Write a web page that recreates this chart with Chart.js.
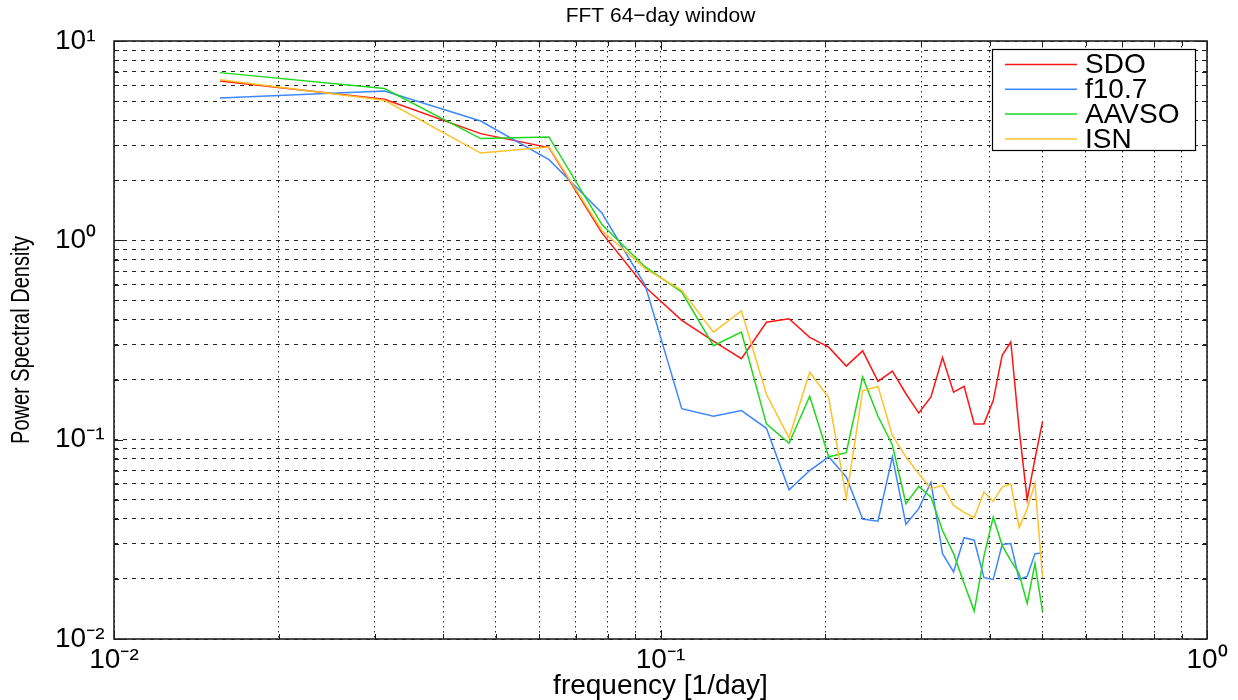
<!DOCTYPE html>
<html>
<head>
<meta charset="utf-8">
<script src="https://cdn.jsdelivr.net/npm/chart.js@4.4.0/dist/chart.umd.min.js"></script>
<style>
html,body{margin:0;padding:0;background:#fff;}
#wrap{width:1238px;height:700px;}
</style>
</head>
<body>
<div id="wrap"><canvas id="c" width="1238" height="700"></canvas></div>
<script>
// frequencies of the 64-day FFT (k/64, k = 1..32)
const freq = [0.015625, 0.03125, 0.046875, 0.0625, 0.078125, 0.09375, 0.109375, 0.125,
  0.140625, 0.15625, 0.171875, 0.1875, 0.203125, 0.21875, 0.234375, 0.25,
  0.265625, 0.28125, 0.296875, 0.3125, 0.328125, 0.34375, 0.359375, 0.375,
  0.390625, 0.40625, 0.421875, 0.4375, 0.453125, 0.46875, 0.484375, 0.5];

const sdo = [6.30, 5.10, 3.43, 2.92, 1.09, 0.583, 0.397, 0.312, 0.255, 0.388, 0.404, 0.326,
  0.291, 0.234, 0.279, 0.196, 0.221, 0.170, 0.136, 0.164, 0.258, 0.173, 0.185, 0.120,
  0.120, 0.157, 0.265, 0.309, 0.113, 0.050, 0.080, 0.123];

const f107 = [5.18, 5.61, 3.97, 2.54, 1.37, 0.595, 0.143, 0.131, 0.140, 0.114, 0.056, 0.070,
  0.082, 0.065, 0.040, 0.039, 0.082, 0.0376, 0.0451, 0.0612, 0.0268, 0.0217, 0.0322, 0.0313,
  0.0203, 0.0199, 0.0298, 0.0301, 0.0199, 0.0206, 0.0268, 0.0270];

const aavso = [6.94, 5.77, 3.24, 3.30, 1.20, 0.735, 0.550, 0.296, 0.347, 0.120, 0.096, 0.165,
  0.082, 0.086, 0.206, 0.131, 0.094, 0.0477, 0.0583, 0.0515, 0.035, 0.0268, 0.019, 0.0138,
  0.026, 0.0409, 0.0295, 0.0247, 0.0213, 0.0151, 0.0239, 0.0138];

const isn = [6.40, 5.04, 2.74, 2.94, 1.12, 0.721, 0.561, 0.346, 0.442, 0.169, 0.102, 0.218,
  0.162, 0.051, 0.176, 0.185, 0.105, 0.082, 0.0675, 0.0568, 0.059, 0.0468, 0.0432, 0.0406,
  0.0546, 0.049, 0.0578, 0.0601, 0.0362, 0.045, 0.0605, 0.0205];

const seriesNames = ['SDO', 'f10.7', 'AAVSO', 'ISN'];
const seriesValues = [sdo, f107, aavso, isn];
const seriesColors = ['#ff1414', '#3f87ff', '#1ed81e', '#ffc22a'];

const xGridValues = [0.01,0.02,0.03,0.04,0.05,0.06,0.07,0.08,0.09,
  0.1,0.2,0.3,0.4,0.5,0.6,0.7,0.8,0.9,1];
const yGridValues = [0.01,0.02,0.03,0.04,0.05,0.06,0.07,0.08,0.09,
  0.1,0.2,0.3,0.4,0.5,0.6,0.7,0.8,0.9,
  1,2,3,4,5,6,7,8,9,10];
const xTickLabels = {'0.01':'10\u207B\u00B2', '0.1':'10\u207B\u00B9', '1':'10\u2070'};
const yTickLabels = {'0.01':'10\u207B\u00B2', '0.1':'10\u207B\u00B9', '1':'10\u2070', '10':'10\u00B9'};

const titleText = 'FFT 64\u2212day window';
const xTitle = 'frequency [1/day]';
const yTitle = 'Power Spectral Density';

const FONT = "'Liberation Sans', Arial, Helvetica, sans-serif";

const frame = {
  id: 'frame',
  afterDraw(chart) {
    const {ctx, chartArea: a, scales: {x, y}} = chart;
    ctx.save();
    // inner tick marks
    ctx.strokeStyle = '#1a1a1a';
    ctx.lineWidth = 1;
    ctx.beginPath();
    x.ticks.forEach(t => {
      const px = Math.round(x.getPixelForValue(t.value)) + 0.5;
      const L = xTickLabels[String(t.value)] ? 9 : 5;
      ctx.moveTo(px, a.bottom); ctx.lineTo(px, a.bottom - L);
      ctx.moveTo(px, a.top); ctx.lineTo(px, a.top + L);
    });
    y.ticks.forEach(t => {
      const py = Math.round(y.getPixelForValue(t.value)) + 0.5;
      const L = yTickLabels[String(t.value)] ? 9 : 5;
      ctx.moveTo(a.left, py); ctx.lineTo(a.left + L, py);
      ctx.moveTo(a.right, py); ctx.lineTo(a.right - L, py);
    });
    ctx.stroke();
    // box
    ctx.lineWidth = 1.6;
    ctx.strokeStyle = '#222';
    ctx.strokeRect(a.left, a.top, a.right - a.left, a.bottom - a.top);

    // legend
    const lw = 203, lh = 101;
    const lx = a.right - 215, ly = a.top + 8;
    ctx.fillStyle = '#fff';
    ctx.fillRect(lx, ly, lw, lh);
    ctx.lineWidth = 1.2;
    ctx.strokeStyle = '#000';
    ctx.strokeRect(lx + 0.5, ly + 0.5, lw, lh);
    ctx.font = '28px ' + FONT;
    ctx.textAlign = 'left';
    ctx.textBaseline = 'middle';
    seriesNames.forEach((n, i) => {
      const cy = ly + 15.5 + i * 24.8;
      ctx.strokeStyle = seriesColors[i];
      ctx.lineWidth = 1.5;
      ctx.beginPath();
      ctx.moveTo(lx + 13, cy); ctx.lineTo(lx + 85, cy);
      ctx.stroke();
      ctx.fillStyle = '#000';
      ctx.fillText(n, lx + 93, cy + 1);
    });

    // y axis title (condensed, as in the reference)
    ctx.translate(22, (a.top + a.bottom) / 2);
    ctx.rotate(-Math.PI / 2);
    ctx.scale(0.8, 1);
    ctx.textAlign = 'center';
    ctx.textBaseline = 'middle';
    ctx.fillStyle = '#000';
    ctx.font = "25px 'Liberation Sans', Arial, sans-serif";
    ctx.fillText(yTitle, 0, 0);
    ctx.restore();
  }
};

const datasets = seriesNames.map((n, i) => ({
  label: n,
  data: freq.map((f, j) => ({x: f, y: seriesValues[i][j]})),
  borderColor: seriesColors[i],
  backgroundColor: seriesColors[i],
  borderWidth: 1.5,
  pointRadius: 0,
  tension: 0,
  fill: false,
  order: seriesNames.length - i
}));

new Chart(document.getElementById('c'), {
  type: 'line',
  data: {datasets},
  plugins: [frame],
  options: {
    responsive: false,
    animation: false,
    devicePixelRatio: 1,
    layout: {padding: {left: 55, right: 31, top: 0, bottom: 0}},
    plugins: {
      legend: {display: false},
      tooltip: {enabled: false},
      title: {
        display: true, text: titleText, fullSize: false, color: '#000',
        font: {family: FONT, size: 21, weight: 'normal', lineHeight: 1.2},
        padding: {top: 4, bottom: 11.8}
      }
    },
    scales: {
      x: {
        type: 'logarithmic', min: 0.01, max: 1,
        afterBuildTicks: s => { s.ticks = xGridValues.map(v => ({value: v})); },
        afterFit: s => { s.height = 61; },
        grid: {color: 'rgba(0,0,0,0.85)', lineWidth: 1, drawTicks: false, borderDash: [1.5, 3.5]},
        border: {display: false, dash: [1.5, 3.5]},
        ticks: {
          autoSkip: false, maxRotation: 0, minRotation: 0, padding: 4, color: '#000',
          font: {family: FONT, size: 28},
          callback: v => xTickLabels[String(v)] || ''
        },
        title: {display: true, text: xTitle, color: '#000', font: {family: FONT, size: 28, lineHeight: 1}, padding: {top: 0, bottom: 0}}
      },
      y: {
        type: 'logarithmic', min: 0.01, max: 10,
        afterBuildTicks: s => { s.ticks = yGridValues.map(v => ({value: v})); },
        afterFit: s => { s.width = 59; },
        grid: {color: 'rgba(0,0,0,0.85)', lineWidth: 1, drawTicks: false, borderDash: [4, 5]},
        border: {display: false, dash: [4, 5]},
        ticks: {
          autoSkip: false, crossAlign: 'far', padding: 8, color: '#000',
          font: {family: FONT, size: 28},
          callback: v => yTickLabels[String(v)] || ''
        }
      }
    }
  }
});
</script>
</body>
</html>
